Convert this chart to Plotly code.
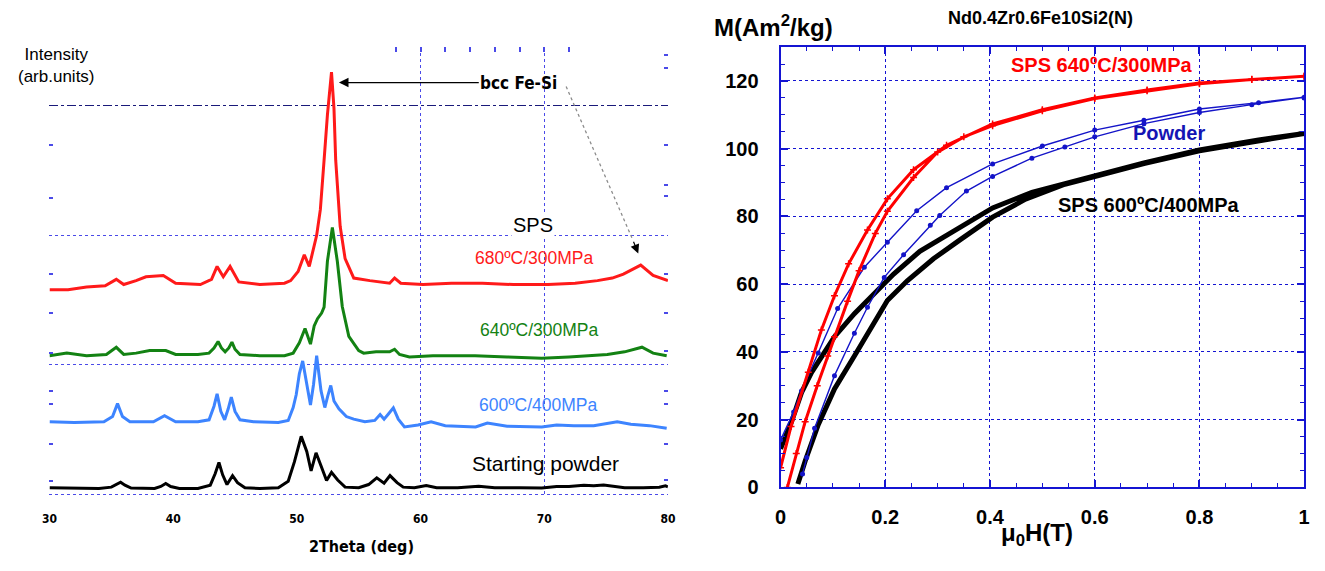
import plotly.graph_objects as go

# ---------------- XRD data (left panel) ----------------
xrd_black_x = [30.0, 32.0, 34.0, 35.0, 35.4, 35.75, 36.1, 36.6, 38.5, 39.0, 39.4, 39.8, 40.5, 42.0, 43.0, 43.4, 43.7, 44.0, 44.35, 44.8, 45.2, 45.8, 47.0, 48.5, 49.3, 49.8, 50.35, 50.8, 51.15, 51.55, 51.95, 52.4, 52.8, 53.3, 53.9, 55.0, 55.8, 56.46, 57.05, 57.53, 58.1, 58.6, 59.5, 60.46, 61.3, 63.0, 64.7, 66.0, 68.0, 69.8, 71.0, 72.0, 73.2, 74.0, 74.8, 75.6, 76.5, 78.0, 79.3, 79.8, 80.0]
xrd_black_y = [0.05, 0.045, 0.045, 0.055, 0.075, 0.093, 0.07, 0.048, 0.045, 0.06, 0.083, 0.06, 0.045, 0.045, 0.07, 0.16, 0.245, 0.15, 0.075, 0.144, 0.09, 0.05, 0.045, 0.05, 0.1, 0.25, 0.447, 0.33, 0.18, 0.32, 0.22, 0.106, 0.169, 0.11, 0.055, 0.05, 0.075, 0.127, 0.086, 0.144, 0.09, 0.055, 0.05, 0.068, 0.05, 0.05, 0.062, 0.05, 0.05, 0.048, 0.06, 0.06, 0.07, 0.065, 0.072, 0.06, 0.05, 0.05, 0.055, 0.065, 0.058]

xrd_blue_x = [30.0, 32.0, 34.4, 35.1, 35.5, 35.9, 36.5, 38.4, 39.3, 40.2, 42.0, 42.9, 43.3, 43.55, 43.85, 44.16, 44.45, 44.7, 45.0, 45.4, 46.5, 48.5, 49.3, 49.7, 49.95, 50.2, 50.47, 50.8, 51.1, 51.35, 51.6, 51.95, 52.26, 52.5, 52.74, 53.0, 53.4, 54.0, 54.6, 55.5, 56.3, 56.73, 57.05, 57.4, 57.8, 58.2, 58.7, 59.8, 60.85, 62.0, 64.45, 65.4, 67.0, 69.8, 71.0, 72.4, 74.0, 75.9, 77.0, 78.5, 79.9]
xrd_blue_y = [0.56, 0.555, 0.56, 0.6, 0.70, 0.6, 0.56, 0.56, 0.606, 0.56, 0.56, 0.575, 0.68, 0.775, 0.64, 0.575, 0.66, 0.75, 0.64, 0.575, 0.56, 0.555, 0.57, 0.67, 0.77, 0.93, 1.03, 0.85, 0.69, 0.85, 1.07, 0.8, 0.67, 0.76, 0.84, 0.72, 0.66, 0.6, 0.58, 0.56, 0.57, 0.616, 0.58, 0.62, 0.667, 0.58, 0.52, 0.535, 0.56, 0.53, 0.52, 0.55, 0.525, 0.52, 0.535, 0.53, 0.53, 0.56, 0.54, 0.53, 0.51]

xrd_green_x = [30.0, 31.4, 33.0, 34.6, 35.4, 36.0, 37.0, 38.1, 39.4, 40.2, 42.0, 42.9, 43.3, 43.63, 43.9, 44.2, 44.5, 44.75, 45.0, 45.4, 47.0, 49.0, 49.7, 50.2, 50.66, 51.1, 51.4, 51.67, 52.0, 52.2, 52.47, 52.87, 53.27, 53.67, 54.2, 55.0, 55.4, 56.4, 57.5, 57.9, 58.3, 59.1, 61.0, 64.4, 67.0, 69.8, 72.0, 75.1, 76.5, 77.9, 78.8, 79.9]
xrd_green_y = [1.07, 1.09, 1.07, 1.08, 1.135, 1.08, 1.09, 1.11, 1.11, 1.08, 1.08, 1.09, 1.13, 1.18, 1.13, 1.10, 1.13, 1.175, 1.12, 1.08, 1.07, 1.07, 1.09, 1.17, 1.28, 1.16, 1.30, 1.356, 1.40, 1.445, 1.80, 2.06, 1.80, 1.45, 1.22, 1.11, 1.09, 1.10, 1.10, 1.12, 1.08, 1.06, 1.07, 1.07, 1.06, 1.05, 1.06, 1.08, 1.10, 1.136, 1.09, 1.07]

xrd_red_x = [30.0, 31.5, 33.0, 34.5, 35.4, 36.0, 37.0, 37.8, 39.2, 40.2, 42.2, 43.1, 43.55, 44.05, 44.6, 45.3, 47.0, 49.0, 49.5, 50.1, 50.6, 51.0, 51.6, 51.9, 52.2, 52.47, 52.8, 53.0, 53.14, 53.3, 53.5, 53.9, 54.6, 55.9, 57.5, 57.9, 58.4, 60.2, 62.5, 65.0, 67.5, 70.3, 72.5, 74.3, 75.5, 76.4, 77.8, 78.8, 80.0]
xrd_red_y = [1.58, 1.58, 1.60, 1.61, 1.66, 1.62, 1.65, 1.68, 1.69, 1.63, 1.62, 1.66, 1.76, 1.68, 1.76, 1.64, 1.62, 1.63, 1.65, 1.72, 1.85, 1.76, 2.0, 2.2, 2.58, 2.93, 3.26, 2.98, 2.58, 2.33, 2.07, 1.82, 1.67, 1.65, 1.63, 1.67, 1.63, 1.62, 1.63, 1.63, 1.62, 1.62, 1.63, 1.65, 1.67, 1.70, 1.77, 1.69, 1.65]

xrd_ticks = [30, 40, 50, 60, 70, 80]
xrd_left_minor = [0.10, 0.39, 0.70, 0.80, 1.09, 1.40, 1.70, 2.29, 2.70]
xrd_right_minor = [0.11, 0.39, 0.70, 0.80, 1.11, 1.40, 1.70, 2.30, 2.39, 2.70, 3.29, 3.39]
xrd_top_minor = [58, 60, 62, 64, 66, 68, 70, 72]

# ---------------- M(H) data (right panel) ----------------
red_lo_x = [0.013, 0.03, 0.047, 0.07, 0.09, 0.103, 0.128, 0.15, 0.181, 0.204, 0.254, 0.3, 0.35, 0.405, 0.5, 0.6, 0.7, 0.8, 0.9, 1.0]
red_lo_y = [0.0, 10.0, 19.4, 30.0, 38.8, 44.5, 55.0, 64.0, 75.0, 81.5, 91.5, 99.0, 103.5, 106.8, 111.2, 114.8, 117.1, 119.2, 120.4, 121.4]
red_up_x = [0.0, 0.02, 0.053, 0.078, 0.103, 0.13, 0.166, 0.204, 0.254, 0.317, 0.405, 0.5, 0.6, 0.7, 0.8, 0.9, 1.0]
red_up_y = [5.8, 18.0, 34.0, 46.5, 56.6, 66.0, 76.0, 85.2, 93.8, 101.0, 107.3, 111.5, 115.0, 117.3, 119.4, 120.5, 121.4]

blue_lo_x = [0.042, 0.05, 0.065, 0.103, 0.141, 0.166, 0.198, 0.235, 0.286, 0.304, 0.355, 0.405, 0.48, 0.543, 0.6, 0.694, 0.8, 0.9, 1.0]
blue_lo_y = [4.0, 8.8, 17.5, 33.0, 45.5, 53.2, 62.0, 68.7, 77.4, 80.3, 87.5, 91.8, 97.2, 100.5, 103.5, 107.4, 110.7, 113.0, 115.0]
blue_up_x = [0.0, 0.025, 0.04, 0.072, 0.109, 0.16, 0.204, 0.26, 0.317, 0.405, 0.5, 0.6, 0.694, 0.8, 0.913, 1.0]
blue_up_y = [14.0, 22.3, 28.5, 39.7, 52.8, 65.0, 72.4, 81.7, 88.5, 95.5, 100.8, 105.5, 108.4, 111.7, 113.6, 115.2]

black_lo_x = [0.033, 0.047, 0.072, 0.103, 0.141, 0.179, 0.204, 0.242, 0.292, 0.342, 0.405, 0.468, 0.543, 0.6, 0.694, 0.8, 0.913, 1.0]
black_lo_y = [1.0, 7.8, 18.5, 29.1, 38.8, 48.4, 55.2, 61.0, 67.5, 73.0, 79.8, 85.1, 89.5, 91.8, 95.6, 99.4, 102.4, 104.5]
black_up_x = [0.0, 0.021, 0.04, 0.059, 0.078, 0.103, 0.141, 0.179, 0.216, 0.266, 0.329, 0.405, 0.48, 0.543, 0.6, 0.694, 0.8, 0.913, 1.0]
black_up_y = [11.4, 19.4, 28.0, 33.9, 38.8, 44.5, 51.3, 57.1, 63.0, 69.7, 75.5, 82.5, 87.1, 89.9, 92.0, 95.8, 99.6, 102.6, 104.5]

mh_xticks = [0, 0.2, 0.4, 0.6, 0.8, 1.0]
mh_xlabels = ["0", "0.2", "0.4", "0.6", "0.8", "1"]
mh_yticks = [0, 20, 40, 60, 80, 100, 120]

# ---------------- figure ----------------
W, H = 1325, 571
L_DOM_X = [42 / W, 668 / W]
L_DOM_Y = [1 - 507 / H, 1 - 48 / H]
R_DOM_X = [782 / W, 1312 / W]
R_DOM_Y = [1 - 497 / H, 1 - 48 / H]
YL = [-0.023, 3.454]
XL = [30, 80]

GRID_BLUE = "#4a4ae8"
AX_BLUE = "#1414d2"
NARROW = "Liberation Sans Narrow, DejaVu Sans Condensed, Arial Narrow, sans-serif"
ARIAL = "Liberation Sans, Arial, Helvetica, sans-serif"

fig = go.Figure()

for xs, ys, col in [
    (xrd_black_x, xrd_black_y, "#000000"),
    (xrd_blue_x, xrd_blue_y, "#3d84ff"),
    (xrd_green_x, xrd_green_y, "#138213"),
    (xrd_red_x, xrd_red_y, "#ff1a1a"),
]:
    fig.add_trace(go.Scatter(x=xs, y=ys, mode="lines", line=dict(color=col, width=3),
                             xaxis="x", yaxis="y", showlegend=False, hoverinfo="skip"))

# empty traces so that the decorative overlay axes get drawn
for xa, ya in [("x", "y3"), ("x", "y4"), ("x", "y5"), ("x3", "y"), ("x4", "y")]:
    fig.add_trace(go.Scatter(x=[], y=[], xaxis=xa, yaxis=ya, showlegend=False, hoverinfo="skip"))

for lo_x, lo_y, up_x, up_y, col, lw, mode, msym, msz in [
    (black_lo_x, black_lo_y, black_up_x, black_up_y, "#000000", 5, "lines", "square", 4),
    (blue_lo_x, blue_lo_y, blue_up_x, blue_up_y, "#1414c8", 1.4, "lines+markers", "circle", 3.5),
    (red_lo_x, red_lo_y, red_up_x, red_up_y, "#ff0000", 3, "lines+markers", "cross-thin", 5),
]:
    fig.add_trace(go.Scatter(x=lo_x + up_x[::-1], y=lo_y + up_y[::-1], mode=mode,
                             line=dict(color=col, width=lw),
                             marker=dict(symbol=msym, size=msz, color=col, line=dict(color=col, width=1.5)),
                             xaxis="x2", yaxis="y2", showlegend=False, hoverinfo="skip"))

fig.update_layout(
    width=W, height=H, margin=dict(l=0, r=0, t=0, b=0),
    paper_bgcolor="white", plot_bgcolor="white",
    showlegend=False,
    # ----- left panel axes -----
    xaxis=dict(domain=L_DOM_X, range=XL, anchor="y", tickvals=xrd_ticks,
               ticktext=["<b>%d</b>" % v for v in xrd_ticks], ticks="", showgrid=False,
               zeroline=False, showline=False, ticklabelstandoff=13,
               tickfont=dict(family=NARROW, size=12, color="black")),
    yaxis=dict(domain=L_DOM_Y, range=YL, anchor="x", tickvals=[0, 1, 2], showticklabels=False,
               ticks="", showgrid=True, gridcolor=GRID_BLUE, griddash="dot", gridwidth=1,
               zeroline=False, showline=False),
    yaxis3=dict(overlaying="y", range=YL, anchor="x", tickvals=[3], showticklabels=False, ticks="",
                showgrid=True, gridcolor="#1a1a7a", griddash="dashdot", gridwidth=1, zeroline=False),
    yaxis4=dict(overlaying="y", range=YL, anchor="x", side="left", tickvals=xrd_left_minor,
                ticks="inside", ticklen=4, tickwidth=1.5, tickcolor=GRID_BLUE, showticklabels=False,
                showgrid=False, zeroline=False, showline=False),
    yaxis5=dict(overlaying="y", range=YL, anchor="x", side="right", tickvals=xrd_right_minor,
                ticks="inside", ticklen=4, tickwidth=1.5, tickcolor=GRID_BLUE, showticklabels=False,
                showgrid=False, zeroline=False, showline=False),
    xaxis3=dict(overlaying="x", anchor="y", side="top", range=XL, tickvals=xrd_top_minor,
                ticks="inside", ticklen=5, tickwidth=1.5, tickcolor=GRID_BLUE, showticklabels=False,
                showgrid=False, zeroline=False, showline=False),
    xaxis4=dict(overlaying="x", anchor="y", range=XL, tickvals=[60, 70], showticklabels=False,
                ticks="", showgrid=True, gridcolor=GRID_BLUE, griddash="dot", gridwidth=1,
                zeroline=False, showline=False),
    # ----- right panel axes -----
    xaxis2=dict(domain=R_DOM_X, anchor="y2", range=[0, 1], tickvals=mh_xticks,
                ticktext=["<b>%s</b>" % s for s in mh_xlabels], ticks="inside", ticklen=7,
                tickwidth=1.5, tickcolor=AX_BLUE, showline=True, linecolor=AX_BLUE, linewidth=2,
                mirror="ticks", showgrid=True, gridcolor=AX_BLUE, griddash="dot", gridwidth=1,
                zeroline=False, ticklabelstandoff=11,
                minor=dict(dtick=0.05, tick0=0, ticks="inside", ticklen=4, tickcolor=AX_BLUE,
                           tickwidth=1.2, showgrid=False),
                tickfont=dict(family=ARIAL, size=20, color="black")),
    yaxis2=dict(domain=R_DOM_Y, anchor="x2", range=[0, 130], tickvals=mh_yticks,
                ticktext=["<b>%d</b>" % v for v in mh_yticks], ticks="inside", ticklen=7,
                tickwidth=1.5, tickcolor=AX_BLUE, showline=True, linecolor=AX_BLUE, linewidth=2,
                mirror="ticks", showgrid=True, gridcolor=AX_BLUE, griddash="dot", gridwidth=1,
                zeroline=False, ticklabelstandoff=16,
                minor=dict(dtick=5, tick0=0, ticks="inside", ticklen=4, tickcolor=AX_BLUE,
                           tickwidth=1.2, showgrid=False),
                tickfont=dict(family=ARIAL, size=20, color="black")),
)

# dashed pointer for bcc Fe-Si (second peak)
fig.add_shape(type="line", xref="x", yref="y", x0=71.77, y0=3.15, x1=77.17, y1=1.962,
              line=dict(color="#8c8c8c", width=1.3, dash="dot"))

C = dict(xanchor="center", yanchor="middle", showarrow=False)
ann = [
    dict(xref="paper", yref="paper", x=49 / W, y=1 - 67 / H, text="Intensity<br>(arb.units)",
         font=dict(family=ARIAL, size=17, color="black"), **C),
    dict(xref="x", yref="y", x=53.4, y=3.18, ax=67.94, ay=3.18, axref="x", ayref="y",
         text="<b>bcc Fe-Si</b>", showarrow=True, arrowhead=2, arrowsize=1.6, arrowwidth=1.2,
         arrowcolor="black", font=dict(family=NARROW, size=17, color="black"),
         xanchor="center", yanchor="middle"),
    dict(xref="x", yref="y", x=77.6, y=1.86, ax=77.17, ay=1.962, axref="x", ayref="y", text="",
         showarrow=True, arrowhead=2, arrowsize=1.5, arrowwidth=1.2, arrowcolor="black"),
    dict(xref="x", yref="y", x=69.1, y=2.08, text="SPS", bgcolor="white",
         font=dict(family=ARIAL, size=20, color="black"), **C),
    dict(xref="x", yref="y", x=69.2, y=1.826, text="680ºC/300MPa",
         font=dict(family=ARIAL, size=17.5, color="#ff1a1a"), **C),
    dict(xref="x", yref="y", x=69.6, y=1.265, text="640ºC/300MPa",
         font=dict(family=ARIAL, size=17.5, color="#138213"), **C),
    dict(xref="x", yref="y", x=69.5, y=0.69, text="600ºC/400MPa",
         font=dict(family=ARIAL, size=17.5, color="#3d84ff"), **C),
    dict(xref="x", yref="y", x=70.1, y=0.235, text="Starting powder",
         font=dict(family=ARIAL, size=21, color="black"), **C),
    dict(xref="paper", yref="paper", x=358 / W, y=1 - 557 / H, text="<b>2Theta (deg)</b>",
         font=dict(family=NARROW, size=16, color="black"), **C),
    # right panel
    dict(xref="paper", yref="paper", x=1045 / W, y=1 - 18 / H, text="<b>Nd0.4Zr0.6Fe10Si2(N)</b>",
         font=dict(family=ARIAL, size=18, color="black"), **C),
    dict(xref="paper", yref="paper", x=775 / W, y=1 - 27 / H, text="<b>M(Am<sup>2</sup>/kg)</b>",
         font=dict(family=ARIAL, size=24, color="black"), **C),
    dict(xref="paper", yref="paper", x=1042 / W, y=1 - 545 / H, text="<b>μ<sub>0</sub>H(T)</b>",
         font=dict(family=ARIAL, size=24, color="black"), **C),
    dict(xref="x2", yref="y2", x=0.613, y=124.6, text="<b>SPS 640ºC/300MPa</b>",
         font=dict(family=ARIAL, size=20, color="#ff0000"), **C),
    dict(xref="x2", yref="y2", x=0.7415, y=104.6, text="<b>Powder</b>",
         font=dict(family=ARIAL, size=20, color="#1414b4"), **C),
    dict(xref="x2", yref="y2", x=0.704, y=83.5, text="<b>SPS 600ºC/400MPa</b>",
         font=dict(family=ARIAL, size=20, color="black"), **C),
]
fig.update_layout(annotations=ann)

fig.write_html("out.html")
